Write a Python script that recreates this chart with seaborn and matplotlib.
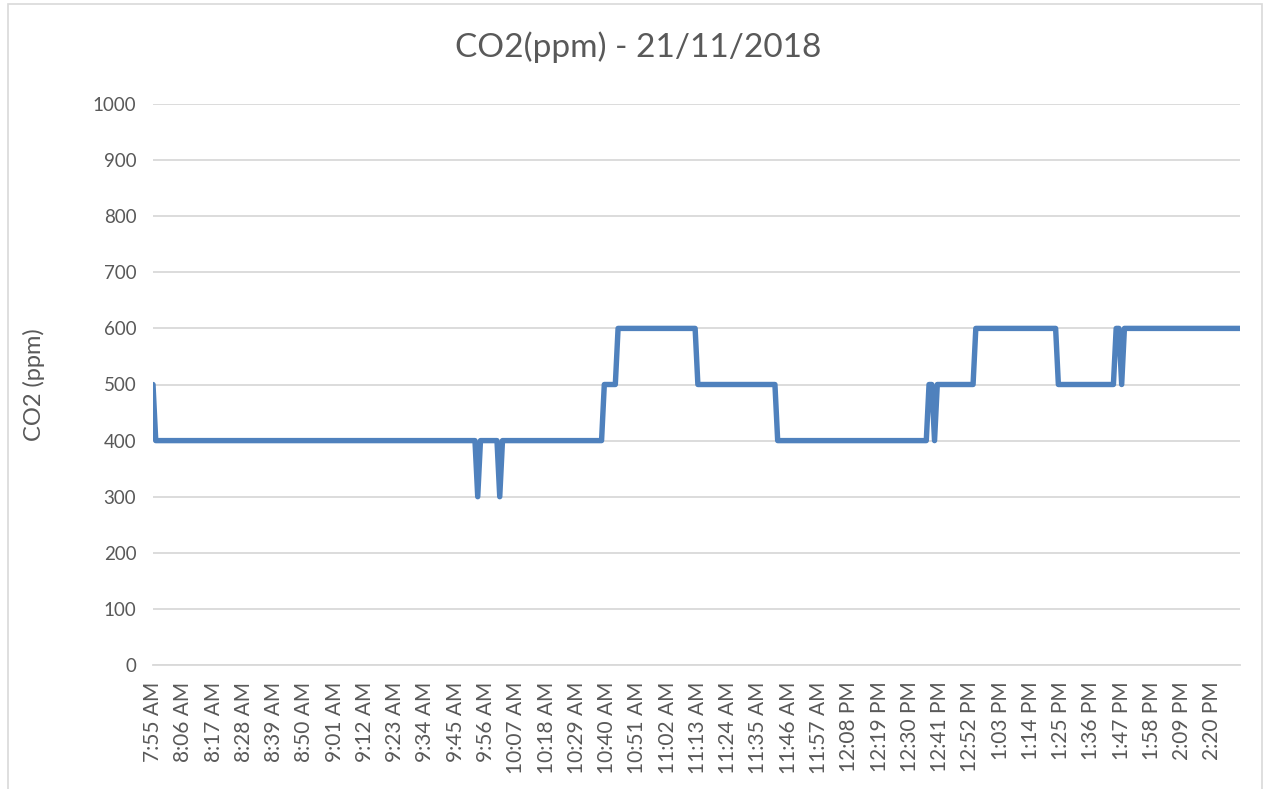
import numpy as np
import pandas as pd
import matplotlib
matplotlib.use("Agg")
import matplotlib.pyplot as plt
from matplotlib.patches import Rectangle
import seaborn as sns

# CO2 readings, one per minute from 7:55 AM, stored as runs of equal values
run_levels = [500, 400, 300, 400, 300, 400, 500, 600, 500, 400, 500, 400, 500, 600, 500, 600, 500, 600]
run_lengths = [1, 117, 1, 7, 1, 37, 5, 29, 29, 55, 2, 1, 14, 30, 21, 2, 1, 43]

tick_labels = ["7:55 AM", "8:06 AM", "8:17 AM", "8:28 AM", "8:39 AM", "8:50 AM",
               "9:01 AM", "9:12 AM", "9:23 AM", "9:34 AM", "9:45 AM", "9:56 AM",
               "10:07 AM", "10:18 AM", "10:29 AM", "10:40 AM", "10:51 AM", "11:02 AM",
               "11:13 AM", "11:24 AM", "11:35 AM", "11:46 AM", "11:57 AM", "12:08 PM",
               "12:19 PM", "12:30 PM", "12:41 PM", "12:52 PM", "1:03 PM", "1:14 PM",
               "1:25 PM", "1:36 PM", "1:47 PM", "1:58 PM", "2:09 PM", "2:20 PM"]
label_step = 11

co2 = np.repeat(run_levels, run_lengths)
df = pd.DataFrame({"idx": np.arange(len(co2)), "co2": co2})

sns.set_style("white")
plt.rcParams["font.family"] = ["Lato", "DejaVu Sans"]
txt = "#595959"
grid = "#D9D9D9"

fig = plt.figure(figsize=(12.71, 7.89), dpi=100)
ax = fig.add_axes([153 / 1271, 1 - 665 / 789, (1240 - 153) / 1271, (665 - 104) / 789])

sns.lineplot(data=df, x="idx", y="co2", ax=ax, color="#4F81BD", linewidth=3.9,
             solid_capstyle="round", solid_joinstyle="round", zorder=3)

ax.set_xlim(0, len(co2) - 1)
ax.set_ylim(0, 1000)
ax.set_yticks(range(0, 1001, 100))
ax.yaxis.grid(True, color=grid, linewidth=1.3)
ax.set_axisbelow(True)
ax.set_xticks(np.arange(len(tick_labels)) * label_step)
ax.set_xticklabels(tick_labels, rotation=90)
for s in ["top", "right", "left"]:
    ax.spines[s].set_visible(False)
ax.spines["bottom"].set_color(grid)
ax.spines["bottom"].set_linewidth(1.3)
ax.tick_params(axis="x", length=0, pad=12, labelsize=15, labelcolor=txt)
ax.tick_params(axis="y", length=0, pad=12, labelsize=13.5, labelcolor=txt)
ax.set_xlabel("")
ax.set_ylabel("CO2 (ppm)", fontsize=17, color=txt)
ax.yaxis.set_label_coords(-108 / 1087, 0.5)

fig.suptitle("CO2(ppm) - 21/11/2018", x=0.502, y=1 - 47 / 789, va="center",
             fontsize=24, color=txt)

fig.add_artist(Rectangle((8 / 1271, -0.05), (1262 - 8) / 1271, 1.05 - 4 / 789,
                         transform=fig.transFigure, fill=False, edgecolor=grid,
                         linewidth=1.2, clip_on=False))

fig.savefig("out.png", dpi=100)
